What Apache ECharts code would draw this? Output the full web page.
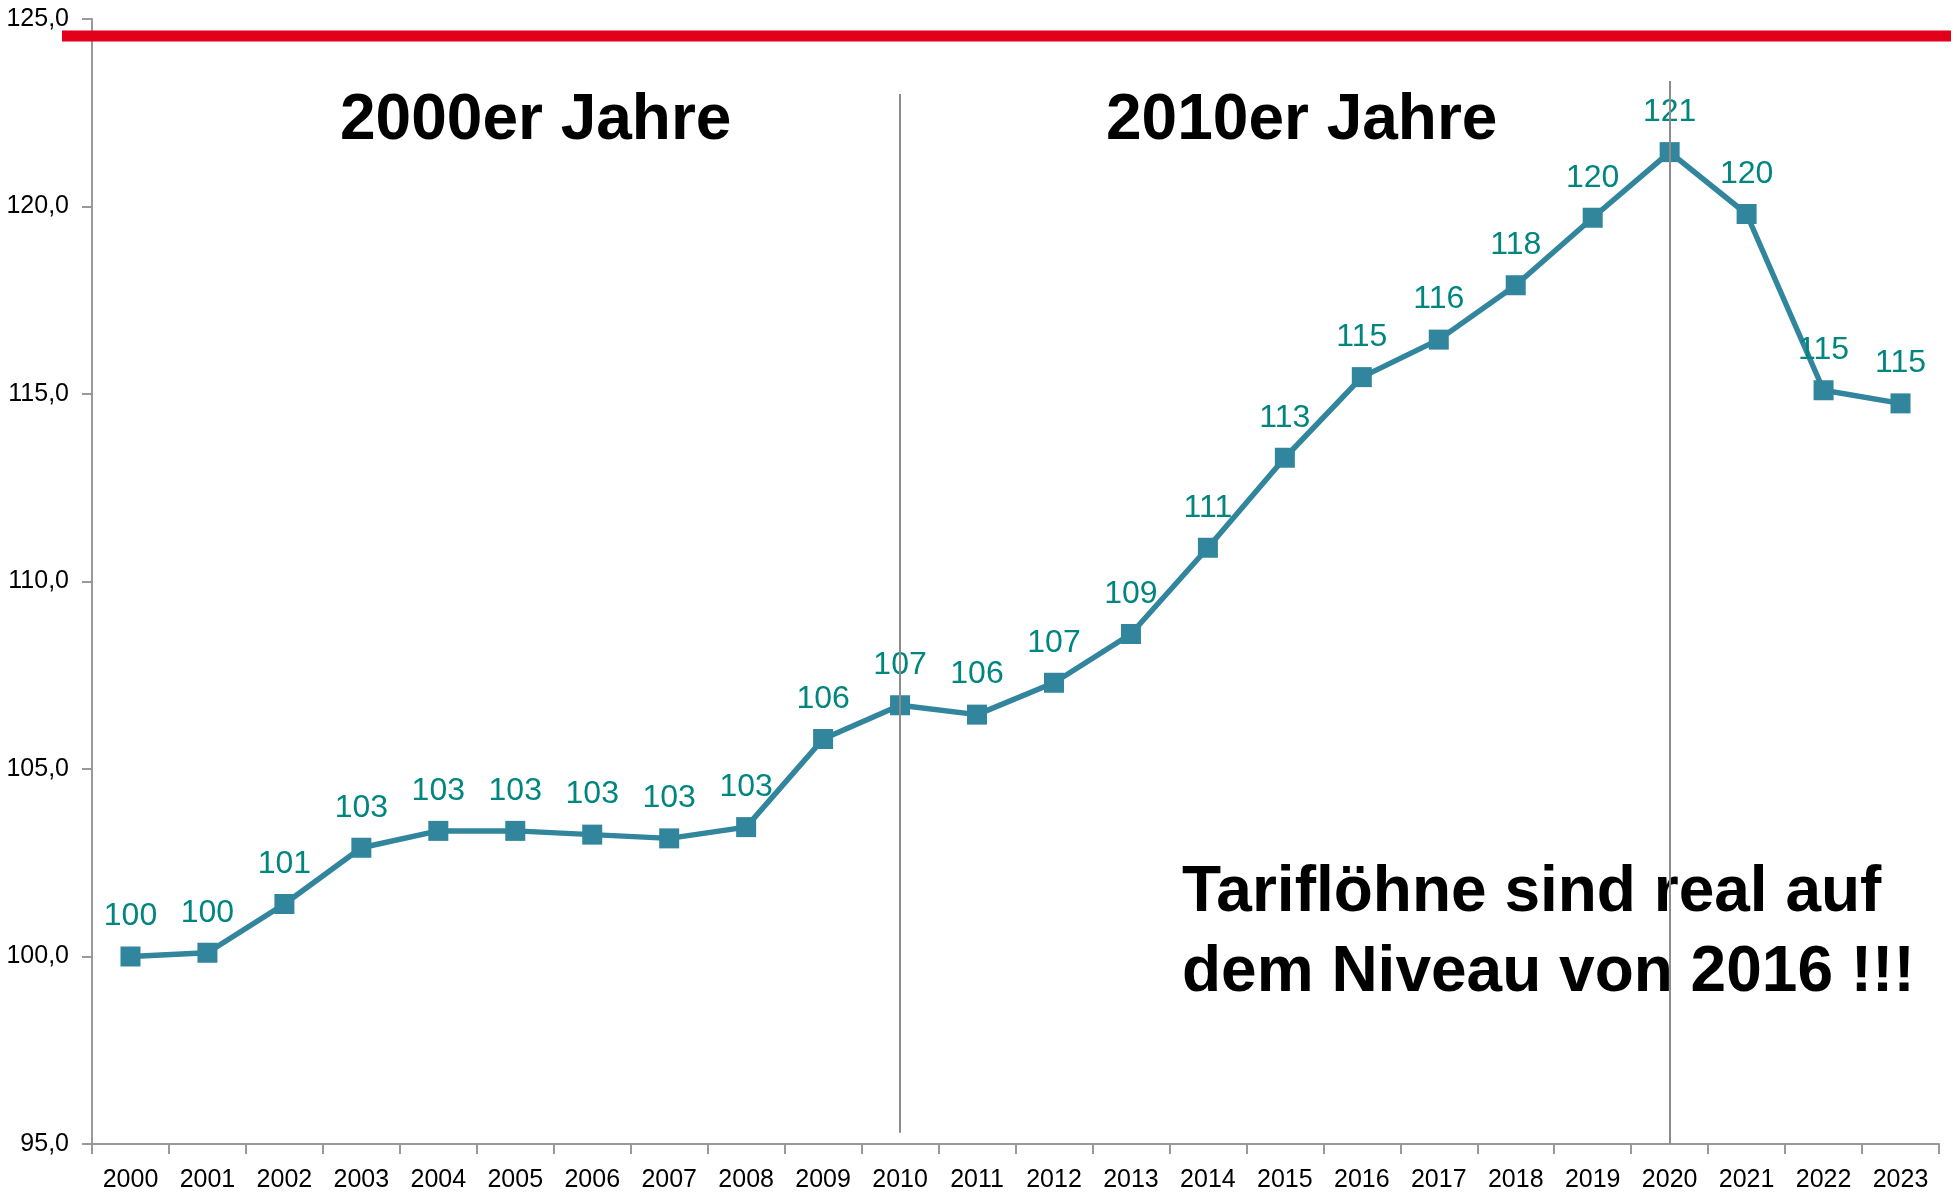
<!DOCTYPE html>
<html>
<head>
<meta charset="utf-8">
<script src="https://cdn.jsdelivr.net/npm/echarts@6/dist/echarts.min.js"></script>
<style>
  html, body { margin: 0; padding: 0; background: #fff; }
  #main { width: 1957px; height: 1194px; }
</style>
</head>
<body>
<div id="main"></div>
<script>
// Daten
var jahre = ['2000', '2001', '2002', '2003', '2004', '2005', '2006', '2007', '2008', '2009', '2010', '2011',
    '2012', '2013', '2014', '2015', '2016', '2017', '2018', '2019', '2020', '2021', '2022', '2023'];
var index = [100.0, 100.1, 101.4, 102.9, 103.35, 103.35, 103.25, 103.15, 103.45, 105.8, 106.7, 106.45,
    107.3, 108.6, 110.9, 113.3, 115.45, 116.45, 117.9, 119.7, 121.45, 119.8, 115.1, 114.75];
var yTicks = { min: 95, max: 125, interval: 5 };
var referenzWert = 124.55;   // rote Linie oben
var trennJahre = [{ jahr: '2010', von: 123.0, bis: 95.3 }, { jahr: '2020', von: 123.35, bis: 95 }];

(function () {
    var myChart = echarts.init(document.getElementById('main'));
    var schrift = '"Liberation Sans", Arial, sans-serif';

    var option = {
        animation: false,
        grid: { left: 92, right: 18, top: 19, bottom: 50, containLabel: false },
        xAxis: {
            type: 'category',
            data: jahre,
            boundaryGap: true,
            axisLine: { lineStyle: { color: '#999', width: 2 } },
            axisTick: { show: true, length: 10, lineStyle: { color: '#999', width: 2 } },
            axisLabel: { color: '#000', fontSize: 25, fontFamily: schrift, margin: 24, interval: 0 },
            splitLine: { show: false }
        },
        yAxis: {
            type: 'value',
            min: yTicks.min,
            max: yTicks.max,
            interval: yTicks.interval,
            axisLine: { show: true, lineStyle: { color: '#999', width: 2 } },
            axisTick: { show: true, length: 10, lineStyle: { color: '#999', width: 2 } },
            axisLabel: {
                color: '#000', fontSize: 25, fontFamily: schrift, margin: 23,
                formatter: function (v) { return v.toFixed(1).replace('.', ','); }
            },
            splitLine: { show: false }
        },
        series: [{
            type: 'line',
            data: index,
            symbol: 'rect',
            symbolSize: 20,
            lineStyle: { color: '#31859C', width: 5.5 },
            itemStyle: { color: '#31859C' },
            label: {
                show: true,
                position: 'top',
                distance: 14,
                color: '#00857F',
                fontSize: 32,
                fontFamily: schrift,
                formatter: function (p) { return Math.round(p.value); }
            },
            markLine: {
                silent: true,
                symbol: 'none',
                label: { show: false },
                lineStyle: { color: '#8c8c8c', width: 2, type: 'solid' },
                data: trennJahre.map(function (t) {
                    return [{ coord: [t.jahr, t.von] }, { coord: [t.jahr, t.bis] }];
                })
            },
            z: 3
        }]
    };
    myChart.setOption(option);

    // rote Linie und Texte
    var yRot = myChart.convertToPixel({ yAxisIndex: 0 }, referenzWert);
    myChart.setOption({
        graphic: [
            {
                type: 'line', z: 10,
                shape: { x1: 62, y1: yRot, x2: 1951, y2: yRot },
                style: { stroke: '#E2001A', lineWidth: 11 }
            },
            {
                type: 'text', left: 340, top: 89,
                style: { text: '2000er Jahre', fill: '#000', font: 'bold 64px ' + schrift }
            },
            {
                type: 'text', left: 1106, top: 89,
                style: { text: '2010er Jahre', fill: '#000', font: 'bold 64px ' + schrift }
            },
            {
                type: 'text', left: 1182, top: 853,
                style: {
                    text: 'Tariflöhne sind real auf\ndem Niveau von 2016 !!!',
                    fill: '#000', font: 'bold 64px ' + schrift, lineHeight: 80
                }
            }
        ]
    });

    window.addEventListener('resize', function () {
        myChart.resize();
    });
})();
</script>
</body>
</html>
